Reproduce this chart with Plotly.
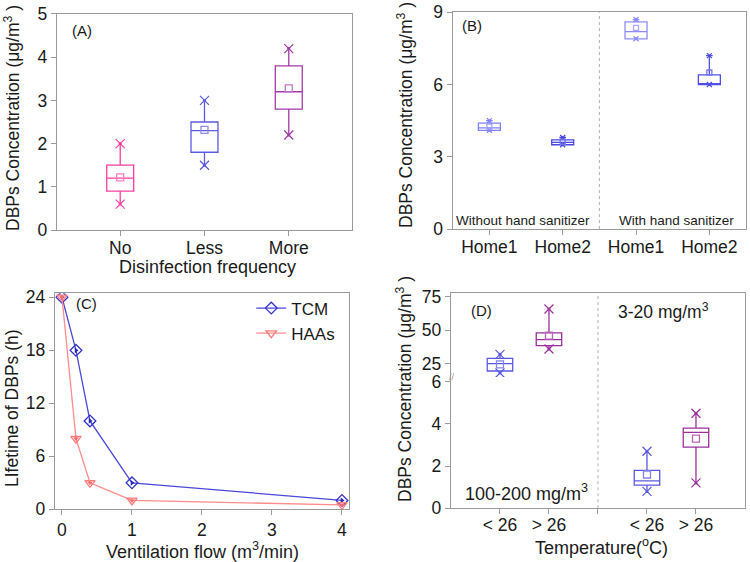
import plotly.graph_objects as go

# ---------------- Data ----------------
# Panel A: disinfection frequency
a_cats = ["No", "Less", "More"]
a_pos = [1, 2, 3]
a_q1 = [0.9, 1.8, 2.8]
a_med = [1.2, 2.3, 3.2]
a_q3 = [1.5, 2.5, 3.8]
a_min = [0.6, 1.5, 2.2]
a_max = [2.0, 3.0, 4.2]
a_mean = [1.22, 2.32, 3.28]
a_colors = ["#FF3FA0", "#5B5BE0", "#A33AA8"]
a_mean_colors = ["#F57FC0", "#8C8CE8", "#C07AC4"]

# Panel B: hand sanitizer
b_cats = ["Home1", "Home2", "Home1", "Home2"]
b_pos = [1, 2, 3, 4]
b_q1 = [4.1, 3.5, 7.9, 6.0]
b_med = [4.2, 3.6, 8.2, 6.0]
b_q3 = [4.4, 3.7, 8.6, 6.4]
b_min = [4.1, 3.5, 7.9, 6.0]
b_max = [4.5, 3.8, 8.7, 7.2]
b_mean = [4.25, 3.62, 8.35, 6.5]
b_colors = ["#8080FF", "#4848E0", "#8C8CFF", "#5050E8"]
b_groups = ["Without hand sanitizer", "With hand sanitizer"]

# Panel C: ventilation
c_flow = [0, 0.2, 0.4, 1, 4]
c_tcm = [24, 18, 10, 3, 1]
c_haas = [24, 8, 3, 1, 0.5]

# Panel D: temperature
d_cats = ["< 26", "> 26", "< 26", "> 26"]
d_pos_high = [1, 2]
d_q1_high = [19.5, 38.5]
d_med_high = [25, 43]
d_q3_high = [29, 48]
d_min_high = [18, 36]
d_max_high = [32, 66]
d_mean_high = [24.5, 46]
d_pos_low = [4, 5]
d_q1_low = [1.1, 2.9]
d_med_low = [1.3, 3.6]
d_q3_low = [1.8, 3.8]
d_min_low = [0.8, 1.2]
d_max_low = [2.7, 4.5]
d_mean_low = [1.6, 3.3]
d_colors = ["#5A5AE0", "#9B2F9B"]
d_mean_colors = ["#8484EC", "#B766B7"]

# ---------------- Figure ----------------
FONT = "Liberation Sans, Arial, sans-serif"
GRID = "#9a9a9a"
TXT = "#1a1a1a"

fig = go.Figure()


def add_boxes(pos, q1, med, q3, lo, hi, mean, colors, mcolors, xa, ya, width,
              msize=9, meansize=7, whisk=0.0):
    for i in range(len(pos)):
        c = colors[i]
        fig.add_trace(go.Box(
            x=[pos[i]], q1=[q1[i]], median=[med[i]], q3=[q3[i]],
            lowerfence=[lo[i]], upperfence=[hi[i]],
            width=width, whiskerwidth=whisk,
            line=dict(color=c, width=1.3), fillcolor="rgba(0,0,0,0)",
            boxpoints=False, showlegend=False, hoverinfo="skip",
            xaxis=xa, yaxis=ya))
        fig.add_trace(go.Scatter(
            x=[pos[i], pos[i]], y=[lo[i], hi[i]], mode="markers",
            marker=dict(symbol="x-thin-open", size=msize, color=c,
                        line=dict(color=c, width=1.2)),
            showlegend=False, hoverinfo="skip", xaxis=xa, yaxis=ya))
        fig.add_trace(go.Scatter(
            x=[pos[i], pos[i]], y=[lo[i], hi[i]], mode="markers",
            marker=dict(symbol="circle", size=3, color=c),
            showlegend=False, hoverinfo="skip", xaxis=xa, yaxis=ya))
        fig.add_trace(go.Scatter(
            x=[pos[i]], y=[mean[i]], mode="markers",
            marker=dict(symbol="square-open", size=meansize, color=mcolors[i],
                        line=dict(color=mcolors[i], width=1.3)),
            showlegend=False, hoverinfo="skip", xaxis=xa, yaxis=ya))


# Panel A
add_boxes(a_pos, a_q1, a_med, a_q3, a_min, a_max, a_mean, a_colors,
          a_mean_colors, "x", "y", 0.32)

# Panel B
add_boxes(b_pos, b_q1, b_med, b_q3, b_min, b_max, b_mean, b_colors,
          ["#A0A0FF", "#7070E8", "#A8A8FF", "#7878EC"], "x2", "y2", 0.3,
          msize=5, meansize=5, whisk=0.3)

# Panel C
fig.add_trace(go.Scatter(
    x=c_flow, y=c_tcm, mode="lines+markers", name="TCM",
    line=dict(color="#4A4AD8", width=1.3),
    marker=dict(symbol="diamond-open", size=9, color="#3535C8",
                line=dict(color="#3535C8", width=1.3)),
    xaxis="x3", yaxis="y3"))
fig.add_trace(go.Scatter(
    x=c_flow, y=c_tcm, mode="markers", showlegend=False, hoverinfo="skip",
    marker=dict(symbol="triangle-right", size=5, color="#2828B8"),
    xaxis="x3", yaxis="y3"))
fig.add_trace(go.Scatter(
    x=c_flow, y=c_haas, mode="lines+markers", name="HAAs",
    line=dict(color="#FF8C8C", width=1.3),
    marker=dict(symbol="triangle-down-open", size=9, color="#FF7A7A",
                line=dict(color="#FF7A7A", width=1.3)),
    xaxis="x3", yaxis="y3"))
fig.add_trace(go.Scatter(
    x=c_flow, y=c_haas, mode="markers", showlegend=False, hoverinfo="skip",
    marker=dict(symbol="triangle-down", size=5, color="#FF6E6E"),
    xaxis="x3", yaxis="y3"))

# Panel D
add_boxes(d_pos_high, d_q1_high, d_med_high, d_q3_high, d_min_high, d_max_high,
          d_mean_high, d_colors, d_mean_colors, "x5", "y5", 0.52)
add_boxes(d_pos_low, d_q1_low, d_med_low, d_q3_low, d_min_low, d_max_low,
          d_mean_low, d_colors, d_mean_colors, "x4", "y4", 0.52)

axis_common = dict(showline=True, linecolor=GRID, linewidth=1.3,
                   ticks="outside", ticklen=5, tickcolor=GRID, tickwidth=1.2,
                   showgrid=False, zeroline=False, automargin=False,
                   tickfont=dict(family=FONT, size=17.5, color=TXT))

fig.update_layout(
    width=750, height=562,
    margin=dict(l=0, r=0, t=0, b=0),
    paper_bgcolor="white", plot_bgcolor="white",
    boxmode="overlay",
    font=dict(family=FONT, color=TXT),
    legend=dict(x=0.335, y=0.483, xanchor="left", yanchor="top",
                bgcolor="rgba(0,0,0,0)", font=dict(family=FONT, size=17, color=TXT),
                tracegroupgap=0, itemwidth=30),
    xaxis=dict(domain=[0.076, 0.4693], anchor="y", range=[0.25, 3.75],
               tickvals=a_pos, ticktext=a_cats, mirror=True,
               ticklabelstandoff=-3, **axis_common),
    yaxis=dict(domain=[0.5907, 0.9751], anchor="x", range=[0, 5],
               tickvals=[0, 1, 2, 3, 4, 5], mirror=True, **axis_common),
    xaxis2=dict(domain=[0.6036, 0.9947], anchor="y2", range=[0.5, 4.5],
                tickvals=b_pos, ticktext=b_cats, mirror=True,
                ticklabelstandoff=-3, **axis_common),
    yaxis2=dict(domain=[0.5925, 0.9781], anchor="x2", range=[0, 9],
                tickvals=[0, 3, 6, 9], mirror=True, **axis_common),
    xaxis3=dict(domain=[0.0733, 0.4653], anchor="y3", range=[-0.1, 4.1],
                tickvals=[0, 1, 2, 3, 4], mirror=True, **axis_common),
    yaxis3=dict(domain=[0.0938, 0.4781], anchor="x3", range=[0, 24.45],
                tickvals=[0, 6, 12, 18, 24], mirror=True, **axis_common),
    xaxis4=dict(domain=[0.6013, 0.9933], anchor="y4", range=[0, 6],
                tickvals=[1, 2, 3, 4, 5], ticktext=d_cats[:2] + [""] + d_cats[2:],
                ticklabelstandoff=-4, **axis_common),
    yaxis4=dict(domain=[0.0956, 0.3292], anchor="x4", range=[0, 6.22],
                tickvals=[0, 2, 4, 6], mirror=True, **axis_common),
    xaxis5=dict(domain=[0.6013, 0.9933], anchor="y5", range=[0, 6],
                matches="x4", side="top", showline=True, linecolor=GRID,
                linewidth=1.3, showticklabels=False, ticks="", showgrid=False,
                zeroline=False, automargin=False),
    yaxis5=dict(domain=[0.3292, 0.4792], anchor="x5", range=[15, 78.2],
                tickvals=[25, 50, 75], mirror=True, **axis_common),
)

# dividers
fig.add_shape(type="line", xref="x2", yref="y2 domain", x0=2.5, x1=2.5, y0=0, y1=1,
              line=dict(color="#b0b0b0", width=1, dash="dot"))
for ya in ["y4 domain", "y5 domain"]:
    fig.add_shape(type="line", xref="x4", yref=ya, x0=3, x1=3, y0=0, y1=1,
                  line=dict(color="#b0b0b0", width=1, dash="dot"))

ann = []


def text(x, y, s, size, angle=0, color=TXT):
    ann.append(dict(x=x, y=y, xref="paper", yref="paper", text=s, showarrow=False,
                    textangle=angle, xanchor="center", yanchor="middle",
                    font=dict(family=FONT, size=size, color=color)))


ytitle = "DBPs Concentration (μg/m<sup>3</sup> )"
text(0.016, 1 - 118 / 562, ytitle, 17.5, -90)
text(405 / 750, 1 - 115 / 562, ytitle, 17.5, -90)
text(0.016, 1 - 408 / 562, "LIfetime of DBPs (h)", 17.5, -90)
text(404 / 750, 1 - 389 / 562, ytitle, 17.5, -90)

text(207.5 / 750, 1 - 267 / 562, "Disinfection frequency", 18)
text(202.5 / 750, 1 - 550 / 562, "Ventilation flow (m<sup>3</sup>/min)", 18)
text(601.5 / 750, 1 - 546 / 562, "Temperature(<sup>o</sup>C)", 18)

text(82 / 750, 1 - 30 / 562, "(A)", 15)
text(472 / 750, 1 - 25 / 562, "(B)", 15)
text(86 / 750, 1 - 303 / 562, "(C)", 15)
text(481 / 750, 1 - 310 / 562, "(D)", 15)

text(523 / 750, 1 - 220 / 562, b_groups[0], 13.5)
text(676.7 / 750, 1 - 220 / 562, b_groups[1], 13.5)

text(663 / 750, 1 - 311 / 562, "3-20 mg/m<sup>3</sup>", 17.5)
text(526.7 / 750, 1 - 492 / 562, "100-200 mg/m<sup>3</sup>", 18)

text(452 / 750, 1 - 377 / 562, "//", 9, 0, GRID)

fig.update_layout(annotations=ann)

fig.write_html("out.html",
               config={"displayModeBar": False},
               post_script="document.body.style.margin='0';"
                           "document.body.style.overflow='hidden';")
